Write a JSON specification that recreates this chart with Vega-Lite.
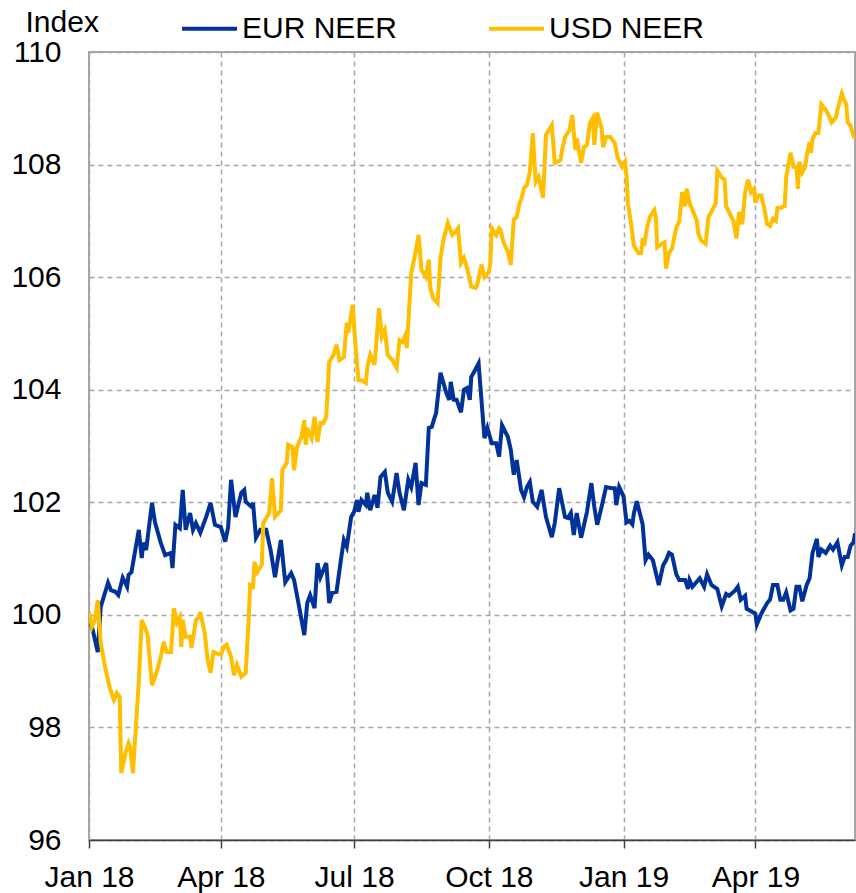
{
"$schema": "https://vega.github.io/schema/vega-lite/v6.json",
"width": 766, "height": 788,
"autosize": {"type": "none"},
"padding": {"left": 89, "top": 52, "right": 1, "bottom": 53},
"config": {
  "font": "Liberation Sans",
  "view": {"stroke": "#a6a6a6", "strokeWidth": 2},
  "axis": {"labelFont": "Liberation Sans", "labelFontSize": 30, "labelColor": "#000000", "gridColor": "#a6a6a6", "gridDash": [5, 4], "gridWidth": 1.5}
},
"datasets": {
"eur": [
{"d":"2018-01-01","v":99.86},{"d":"2018-01-03","v":99.79},{"d":"2018-01-07","v":99.34},{"d":"2018-01-09","v":100.14},{"d":"2018-01-14","v":100.57},{"d":"2018-01-16","v":100.44},{"d":"2018-01-19","v":100.41},{"d":"2018-01-21","v":100.35},{"d":"2018-01-24","v":100.66},{"d":"2018-01-27","v":100.50},{"d":"2018-01-28","v":100.71},{"d":"2018-01-30","v":100.76},
{"d":"2018-02-04","v":101.51},{"d":"2018-02-06","v":101.01},{"d":"2018-02-07","v":101.28},{"d":"2018-02-09","v":101.15},{"d":"2018-02-13","v":101.99},{"d":"2018-02-15","v":101.65},{"d":"2018-02-19","v":101.28},{"d":"2018-02-22","v":101.06},{"d":"2018-02-26","v":101.10},{"d":"2018-02-27","v":100.83},
{"d":"2018-03-01","v":101.60},{"d":"2018-03-04","v":101.54},{"d":"2018-03-06","v":102.22},{"d":"2018-03-08","v":101.51},{"d":"2018-03-11","v":101.81},{"d":"2018-03-13","v":101.51},{"d":"2018-03-15","v":101.63},{"d":"2018-03-18","v":101.46},{"d":"2018-03-22","v":101.74},{"d":"2018-03-25","v":101.99},{"d":"2018-03-28","v":101.60},
{"d":"2018-04-01","v":101.56},{"d":"2018-04-04","v":101.30},{"d":"2018-04-06","v":101.56},{"d":"2018-04-08","v":102.40},{"d":"2018-04-11","v":101.74},{"d":"2018-04-15","v":102.17},{"d":"2018-04-17","v":102.22},{"d":"2018-04-18","v":102.01},{"d":"2018-04-22","v":101.92},{"d":"2018-04-23","v":101.99},{"d":"2018-04-25","v":101.37},{"d":"2018-04-28","v":101.51},
{"d":"2018-05-02","v":101.51},{"d":"2018-05-05","v":101.15},{"d":"2018-05-08","v":100.67},{"d":"2018-05-12","v":101.33},{"d":"2018-05-15","v":100.58},{"d":"2018-05-19","v":100.74},{"d":"2018-05-21","v":100.62},{"d":"2018-05-24","v":100.21},{"d":"2018-05-28","v":99.64},{"d":"2018-05-30","v":100.21},
{"d":"2018-06-01","v":100.35},{"d":"2018-06-04","v":100.12},{"d":"2018-06-06","v":100.92},{"d":"2018-06-08","v":100.67},{"d":"2018-06-12","v":100.92},{"d":"2018-06-14","v":100.21},{"d":"2018-06-16","v":100.39},{"d":"2018-06-19","v":100.41},{"d":"2018-06-22","v":100.98},{"d":"2018-06-24","v":101.33},{"d":"2018-06-26","v":101.21},{"d":"2018-06-29","v":101.74},
{"d":"2018-07-01","v":101.83},{"d":"2018-07-03","v":102.04},{"d":"2018-07-04","v":101.83},{"d":"2018-07-06","v":102.04},{"d":"2018-07-09","v":101.95},{"d":"2018-07-10","v":102.17},{"d":"2018-07-12","v":101.86},{"d":"2018-07-15","v":102.13},{"d":"2018-07-17","v":101.90},{"d":"2018-07-19","v":102.45},{"d":"2018-07-22","v":102.54},{"d":"2018-07-24","v":102.17},{"d":"2018-07-27","v":102.01},{"d":"2018-07-30","v":102.52},
{"d":"2018-08-01","v":102.17},{"d":"2018-08-04","v":101.86},{"d":"2018-08-07","v":102.40},{"d":"2018-08-09","v":102.27},{"d":"2018-08-12","v":102.70},{"d":"2018-08-14","v":101.95},{"d":"2018-08-16","v":102.34},{"d":"2018-08-19","v":102.31},{"d":"2018-08-21","v":103.32},{"d":"2018-08-23","v":103.34},{"d":"2018-08-26","v":103.59},{"d":"2018-08-29","v":104.30},
{"d":"2018-09-02","v":103.94},{"d":"2018-09-04","v":103.82},{"d":"2018-09-05","v":104.14},{"d":"2018-09-07","v":103.82},{"d":"2018-09-09","v":103.82},{"d":"2018-09-12","v":103.60},{"d":"2018-09-14","v":104.00},{"d":"2018-09-16","v":104.03},{"d":"2018-09-18","v":103.82},{"d":"2018-09-19","v":104.23},{"d":"2018-09-21","v":104.32},{"d":"2018-09-24","v":104.47},{"d":"2018-09-28","v":103.14},{"d":"2018-09-30","v":103.32},
{"d":"2018-10-03","v":103.05},{"d":"2018-10-06","v":103.05},{"d":"2018-10-08","v":102.81},{"d":"2018-10-10","v":103.37},{"d":"2018-10-14","v":103.16},{"d":"2018-10-16","v":102.93},{"d":"2018-10-18","v":102.49},{"d":"2018-10-20","v":102.75},{"d":"2018-10-23","v":102.22},{"d":"2018-10-25","v":102.09},{"d":"2018-10-27","v":102.27},{"d":"2018-10-29","v":102.36},{"d":"2018-10-31","v":102.01},
{"d":"2018-11-03","v":101.92},{"d":"2018-11-06","v":102.22},{"d":"2018-11-09","v":101.74},{"d":"2018-11-13","v":101.38},{"d":"2018-11-15","v":101.63},{"d":"2018-11-18","v":102.25},{"d":"2018-11-22","v":101.74},{"d":"2018-11-24","v":101.72},{"d":"2018-11-26","v":101.81},{"d":"2018-11-28","v":101.42},{"d":"2018-11-30","v":101.81},
{"d":"2018-12-03","v":101.37},{"d":"2018-12-05","v":101.60},{"d":"2018-12-07","v":101.83},{"d":"2018-12-10","v":102.34},{"d":"2018-12-12","v":101.92},{"d":"2018-12-14","v":101.60},{"d":"2018-12-17","v":101.92},{"d":"2018-12-20","v":102.27},{"d":"2018-12-24","v":102.25},{"d":"2018-12-26","v":102.25},{"d":"2018-12-27","v":101.95},{"d":"2018-12-29","v":102.27},
{"d":"2019-01-01","v":102.10},{"d":"2019-01-03","v":101.64},{"d":"2019-01-05","v":101.67},{"d":"2019-01-07","v":101.61},{"d":"2019-01-08","v":101.80},{"d":"2019-01-10","v":102.02},{"d":"2019-01-14","v":101.61},{"d":"2019-01-16","v":100.97},{"d":"2019-01-18","v":101.07},{"d":"2019-01-21","v":100.97},{"d":"2019-01-25","v":100.53},{"d":"2019-01-28","v":100.88},{"d":"2019-01-30","v":100.97},
{"d":"2019-02-01","v":101.10},{"d":"2019-02-03","v":101.07},{"d":"2019-02-06","v":100.72},{"d":"2019-02-08","v":100.62},{"d":"2019-02-12","v":100.62},{"d":"2019-02-14","v":100.46},{"d":"2019-02-15","v":100.62},{"d":"2019-02-17","v":100.50},{"d":"2019-02-22","v":100.65},{"d":"2019-02-25","v":100.50},{"d":"2019-02-27","v":100.72},
{"d":"2019-03-02","v":100.53},{"d":"2019-03-06","v":100.46},{"d":"2019-03-09","v":100.15},{"d":"2019-03-12","v":100.37},{"d":"2019-03-14","v":100.34},{"d":"2019-03-18","v":100.43},{"d":"2019-03-20","v":100.50},{"d":"2019-03-22","v":100.27},{"d":"2019-03-25","v":100.34},{"d":"2019-03-26","v":100.11},{"d":"2019-03-30","v":100.05},
{"d":"2019-04-01","v":100.02},{"d":"2019-04-02","v":99.83},{"d":"2019-04-05","v":100.02},{"d":"2019-04-09","v":100.21},{"d":"2019-04-11","v":100.27},{"d":"2019-04-13","v":100.53},{"d":"2019-04-16","v":100.53},{"d":"2019-04-18","v":100.27},{"d":"2019-04-20","v":100.27},{"d":"2019-04-22","v":100.40},{"d":"2019-04-25","v":100.08},{"d":"2019-04-27","v":100.11},{"d":"2019-04-29","v":100.50},
{"d":"2019-05-01","v":100.50},{"d":"2019-05-03","v":100.24},{"d":"2019-05-06","v":100.53},{"d":"2019-05-08","v":100.65},{"d":"2019-05-10","v":101.10},{"d":"2019-05-13","v":101.35},{"d":"2019-05-14","v":101.03},{"d":"2019-05-16","v":101.16},{"d":"2019-05-19","v":101.10},{"d":"2019-05-22","v":101.23},{"d":"2019-05-24","v":101.16},{"d":"2019-05-27","v":101.29},{"d":"2019-05-30","v":100.88},
{"d":"2019-06-01","v":101.03},{"d":"2019-06-03","v":101.03},{"d":"2019-06-05","v":101.23},{"d":"2019-06-07","v":101.29},{"d":"2019-06-08","v":101.45}
],
"usd": [
{"d":"2018-01-01","v":100.05},{"d":"2018-01-03","v":99.79},{"d":"2018-01-05","v":99.91},{"d":"2018-01-07","v":100.26},{"d":"2018-01-09","v":99.50},{"d":"2018-01-12","v":99.07},{"d":"2018-01-15","v":98.72},{"d":"2018-01-18","v":98.49},{"d":"2018-01-20","v":98.61},{"d":"2018-01-22","v":98.54},{"d":"2018-01-23","v":97.19},{"d":"2018-01-26","v":97.55},{"d":"2018-01-28","v":97.72},{"d":"2018-01-29","v":97.65},{"d":"2018-01-31","v":97.19},
{"d":"2018-02-02","v":98.01},{"d":"2018-02-04","v":98.81},{"d":"2018-02-06","v":99.91},{"d":"2018-02-08","v":99.79},{"d":"2018-02-10","v":99.64},{"d":"2018-02-13","v":98.75},{"d":"2018-02-16","v":98.97},{"d":"2018-02-19","v":99.25},{"d":"2018-02-21","v":99.52},{"d":"2018-02-23","v":99.34},{"d":"2018-02-26","v":99.34},{"d":"2018-02-28","v":100.12},
{"d":"2018-03-02","v":99.86},{"d":"2018-03-04","v":99.96},{"d":"2018-03-05","v":99.43},{"d":"2018-03-06","v":99.91},{"d":"2018-03-08","v":99.61},{"d":"2018-03-11","v":99.61},{"d":"2018-03-12","v":99.41},{"d":"2018-03-15","v":99.91},{"d":"2018-03-17","v":99.96},{"d":"2018-03-18","v":100.05},{"d":"2018-03-21","v":99.68},{"d":"2018-03-23","v":99.20},{"d":"2018-03-25","v":98.97},{"d":"2018-03-27","v":99.34},{"d":"2018-03-29","v":99.32},
{"d":"2018-04-01","v":99.29},{"d":"2018-04-03","v":99.43},{"d":"2018-04-05","v":99.47},{"d":"2018-04-08","v":99.25},{"d":"2018-04-10","v":98.93},{"d":"2018-04-12","v":99.11},{"d":"2018-04-15","v":98.90},{"d":"2018-04-18","v":98.97},{"d":"2018-04-20","v":99.91},{"d":"2018-04-21","v":100.53},{"d":"2018-04-23","v":100.50},{"d":"2018-04-24","v":100.94},{"d":"2018-04-26","v":100.76},{"d":"2018-04-29","v":100.89},{"d":"2018-04-30","v":101.63},
{"d":"2018-05-04","v":101.81},{"d":"2018-05-06","v":102.43},{"d":"2018-05-08","v":101.74},{"d":"2018-05-12","v":101.86},{"d":"2018-05-13","v":102.57},{"d":"2018-05-16","v":102.70},{"d":"2018-05-17","v":103.02},{"d":"2018-05-20","v":102.98},{"d":"2018-05-21","v":102.57},{"d":"2018-05-23","v":102.98},{"d":"2018-05-26","v":103.16},{"d":"2018-05-28","v":103.46},{"d":"2018-05-29","v":103.02},{"d":"2018-05-30","v":103.32},
{"d":"2018-06-02","v":103.14},{"d":"2018-06-04","v":103.52},{"d":"2018-06-06","v":103.07},{"d":"2018-06-08","v":103.41},{"d":"2018-06-10","v":103.41},{"d":"2018-06-12","v":103.52},{"d":"2018-06-14","v":104.49},{"d":"2018-06-17","v":104.62},{"d":"2018-06-19","v":104.80},{"d":"2018-06-21","v":104.53},{"d":"2018-06-24","v":104.58},{"d":"2018-06-26","v":105.19},{"d":"2018-06-27","v":105.01},{"d":"2018-06-30","v":105.51},
{"d":"2018-07-02","v":104.76},{"d":"2018-07-04","v":104.17},{"d":"2018-07-06","v":104.17},{"d":"2018-07-09","v":104.12},{"d":"2018-07-10","v":104.40},{"d":"2018-07-12","v":104.62},{"d":"2018-07-15","v":104.44},{"d":"2018-07-18","v":105.45},{"d":"2018-07-20","v":104.94},{"d":"2018-07-22","v":105.06},{"d":"2018-07-24","v":104.62},{"d":"2018-07-27","v":104.53},{"d":"2018-07-30","v":104.39},
{"d":"2018-08-01","v":104.88},{"d":"2018-08-03","v":104.85},{"d":"2018-08-05","v":104.97},{"d":"2018-08-06","v":104.74},{"d":"2018-08-09","v":106.07},{"d":"2018-08-12","v":106.45},{"d":"2018-08-14","v":106.75},{"d":"2018-08-16","v":106.13},{"d":"2018-08-19","v":106.00},{"d":"2018-08-21","v":106.31},{"d":"2018-08-22","v":105.81},{"d":"2018-08-24","v":105.63},{"d":"2018-08-27","v":105.54},{"d":"2018-08-29","v":106.34},{"d":"2018-08-31","v":106.66},
{"d":"2018-09-03","v":106.96},{"d":"2018-09-06","v":106.75},{"d":"2018-09-08","v":106.80},{"d":"2018-09-10","v":106.87},{"d":"2018-09-12","v":106.25},{"d":"2018-09-14","v":106.34},{"d":"2018-09-16","v":106.18},{"d":"2018-09-19","v":105.83},{"d":"2018-09-22","v":105.81},{"d":"2018-09-23","v":105.86},{"d":"2018-09-26","v":106.22},{"d":"2018-09-28","v":106.00},
{"d":"2018-10-01","v":106.09},{"d":"2018-10-02","v":106.25},{"d":"2018-10-03","v":106.87},{"d":"2018-10-06","v":106.75},{"d":"2018-10-08","v":106.87},{"d":"2018-10-09","v":106.84},{"d":"2018-10-11","v":106.62},{"d":"2018-10-14","v":106.45},{"d":"2018-10-16","v":106.22},{"d":"2018-10-18","v":107.02},{"d":"2018-10-20","v":107.07},{"d":"2018-10-22","v":107.32},{"d":"2018-10-23","v":107.37},{"d":"2018-10-25","v":107.58},{"d":"2018-10-27","v":107.64},{"d":"2018-10-29","v":107.87},{"d":"2018-10-31","v":108.56},
{"d":"2018-11-02","v":107.69},{"d":"2018-11-04","v":107.78},{"d":"2018-11-07","v":107.41},{"d":"2018-11-09","v":108.53},{"d":"2018-11-13","v":108.70},{"d":"2018-11-15","v":108.03},{"d":"2018-11-19","v":108.08},{"d":"2018-11-20","v":108.26},{"d":"2018-11-22","v":108.49},{"d":"2018-11-25","v":108.61},{"d":"2018-11-27","v":108.88},{"d":"2018-11-29","v":108.26},{"d":"2018-11-30","v":108.47},
{"d":"2018-12-03","v":108.03},{"d":"2018-12-05","v":108.31},{"d":"2018-12-07","v":108.35},{"d":"2018-12-09","v":108.74},{"d":"2018-12-11","v":108.83},{"d":"2018-12-12","v":108.35},{"d":"2018-12-14","v":108.92},{"d":"2018-12-17","v":108.65},{"d":"2018-12-18","v":108.31},{"d":"2018-12-20","v":108.49},{"d":"2018-12-23","v":108.49},{"d":"2018-12-26","v":108.38},{"d":"2018-12-28","v":108.12},{"d":"2018-12-31","v":107.96},
{"d":"2019-01-02","v":108.05},{"d":"2019-01-03","v":107.80},{"d":"2019-01-04","v":107.30},{"d":"2019-01-05","v":107.14},{"d":"2019-01-06","v":106.97},{"d":"2019-01-08","v":106.56},{"d":"2019-01-11","v":106.43},{"d":"2019-01-13","v":106.43},{"d":"2019-01-14","v":106.69},{"d":"2019-01-15","v":106.56},{"d":"2019-01-17","v":106.88},{"d":"2019-01-19","v":107.07},{"d":"2019-01-22","v":107.19},{"d":"2019-01-23","v":107.07},{"d":"2019-01-24","v":106.53},{"d":"2019-01-27","v":106.59},{"d":"2019-01-29","v":106.62},{"d":"2019-01-30","v":106.15},
{"d":"2019-02-01","v":106.43},{"d":"2019-02-03","v":106.50},{"d":"2019-02-06","v":106.88},{"d":"2019-02-08","v":106.99},{"d":"2019-02-10","v":107.51},{"d":"2019-02-12","v":107.26},{"d":"2019-02-13","v":107.57},{"d":"2019-02-15","v":107.32},{"d":"2019-02-18","v":107.13},{"d":"2019-02-20","v":107.00},{"d":"2019-02-21","v":106.78},{"d":"2019-02-23","v":106.65},{"d":"2019-02-26","v":106.59},{"d":"2019-02-28","v":107.07},
{"d":"2019-03-02","v":107.16},{"d":"2019-03-05","v":107.32},{"d":"2019-03-06","v":107.89},{"d":"2019-03-09","v":107.77},{"d":"2019-03-11","v":107.73},{"d":"2019-03-12","v":107.26},{"d":"2019-03-15","v":107.10},{"d":"2019-03-17","v":107.00},{"d":"2019-03-19","v":106.69},{"d":"2019-03-21","v":107.16},{"d":"2019-03-23","v":106.94},{"d":"2019-03-25","v":107.51},{"d":"2019-03-27","v":107.73},{"d":"2019-03-29","v":107.51},{"d":"2019-03-31","v":107.57},
{"d":"2019-04-01","v":107.32},{"d":"2019-04-03","v":107.45},{"d":"2019-04-05","v":107.45},{"d":"2019-04-07","v":107.23},{"d":"2019-04-09","v":106.94},{"d":"2019-04-11","v":106.91},{"d":"2019-04-13","v":107.04},{"d":"2019-04-15","v":107.00},{"d":"2019-04-16","v":107.23},{"d":"2019-04-18","v":107.23},{"d":"2019-04-21","v":107.26},{"d":"2019-04-22","v":107.77},{"d":"2019-04-25","v":108.21},{"d":"2019-04-27","v":107.96},{"d":"2019-04-29","v":107.96},{"d":"2019-04-30","v":107.57},
{"d":"2019-05-01","v":108.05},{"d":"2019-05-03","v":107.86},{"d":"2019-05-05","v":107.96},{"d":"2019-05-06","v":108.15},{"d":"2019-05-08","v":108.40},{"d":"2019-05-09","v":108.21},{"d":"2019-05-10","v":108.46},{"d":"2019-05-12","v":108.56},{"d":"2019-05-14","v":108.56},{"d":"2019-05-16","v":109.07},{"d":"2019-05-19","v":108.97},{"d":"2019-05-21","v":108.88},{"d":"2019-05-23","v":108.75},{"d":"2019-05-26","v":108.84},{"d":"2019-05-27","v":108.97},{"d":"2019-05-29","v":109.16},{"d":"2019-05-30","v":109.26},{"d":"2019-05-31","v":109.19},
{"d":"2019-06-02","v":109.07},{"d":"2019-06-03","v":108.75},{"d":"2019-06-05","v":108.69},{"d":"2019-06-07","v":108.50},{"d":"2019-06-08","v":108.47}
]
},
"layer": [
  {
    "data": {"name": "eur"},
    "transform": [{"calculate": "'EUR NEER'", "as": "s"}],
    "mark": {"type": "line", "strokeWidth": 4, "clip": true},
    "encoding": {
      "x": {"field": "d", "type": "temporal",
        "scale": {"type": "utc", "domain": [{"year": 2018, "month": 1, "date": 1, "utc": true}, {"year": 2019, "month": 6, "date": 8, "utc": true}]},
        "axis": {"title": null, "values": [{"year": 2018, "month": 1, "date": 1, "utc": true}, {"year": 2018, "month": 4, "date": 1, "utc": true}, {"year": 2018, "month": 7, "date": 1, "utc": true}, {"year": 2018, "month": 10, "date": 1, "utc": true}, {"year": 2019, "month": 1, "date": 1, "utc": true}, {"year": 2019, "month": 4, "date": 1, "utc": true}],
          "labelExpr": "utcFormat(datum.value, '%b %y')", "domainColor": "#404040", "domainWidth": 1.5, "tickColor": "#404040", "tickWidth": 1.5, "tickSize": 8, "labelPadding": 14, "labelFlush": false, "labelOverlap": false, "grid": true}},
      "y": {"field": "v", "type": "quantitative",
        "scale": {"domain": [96, 110], "nice": false, "zero": false},
        "axis": {"values": [96, 98, 100, 102, 104, 106, 108, 110], "format": "d", "title": "Index", "titleAngle": 0, "titleAlign": "left", "titleBaseline": "middle", "titleX": -64, "titleY": -30, "titleFont": "Liberation Sans", "titleFontSize": 30, "titleFontWeight": "normal", "titleColor": "#000000", "domain": false, "ticks": false, "labelPadding": 28, "grid": true}},
      "color": {"field": "s", "type": "nominal",
        "scale": {"domain": ["EUR NEER", "USD NEER"], "range": ["#003299", "#FFBE00"]},
        "legend": {"title": null, "orient": "none", "direction": "horizontal", "legendX": 91, "legendY": -53, "symbolType": "stroke", "symbolSize": 3025, "symbolStrokeWidth": 4, "labelFont": "Liberation Sans", "labelFontSize": 30, "labelColor": "#000000", "labelLimit": 0, "labelOffset": 3, "columnPadding": 83}}
    }
  },
  {
    "data": {"name": "usd"},
    "transform": [{"calculate": "'USD NEER'", "as": "s"}],
    "mark": {"type": "line", "strokeWidth": 4, "clip": true},
    "encoding": {
      "x": {"field": "d", "type": "temporal"},
      "y": {"field": "v", "type": "quantitative"},
      "color": {"field": "s", "type": "nominal"}
    }
  }
]
}
